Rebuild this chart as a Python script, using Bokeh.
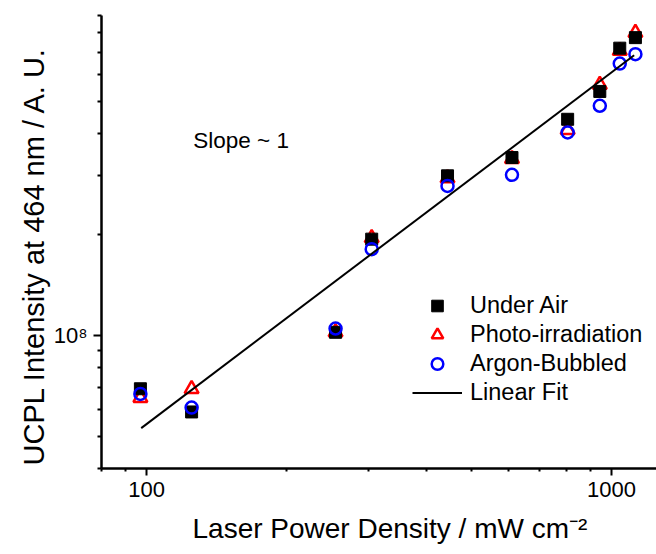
from bokeh.plotting import figure
from bokeh.models import (FixedTicker, Legend, LegendItem, Label, Range1d, Title)
from bokeh.embed import file_html
from bokeh.resources import INLINE

# ---- data ----
power = [97, 125, 255, 305, 444, 611, 805, 944, 1042, 1126]
under_air = [6.92e7, 5.90e7, 1.02e8, 1.935e8, 2.99e8, 3.39e8, 4.41e8, 5.34e8, 7.19e8, 7.73e8]
photo_irr = [6.50e7, 6.91e7, 1.02e8, 1.95e8, 2.94e8, 3.36e8, 4.10e8, 5.59e8, 7.06e8, 7.99e8]
argon = [6.68e7, 6.08e7, 1.047e8, 1.806e8, 2.79e8, 3.01e8, 4.03e8, 4.84e8, 6.47e8, 6.90e8]
fit_x = [97.4, 1119]
fit_y = [5.28e7, 6.85e8]

x_major = [100, 1000]
x_major_labels = ["100", "1000"]
x_minor = [80, 90, 200, 300, 400, 500, 600, 700, 800, 900]
y_major = [1e8]
y_major_labels = ["10\u2078"]
y_minor = [4e7, 5e7, 6e7, 7e7, 8e7, 9e7, 2e8, 3e8, 4e8, 5e8, 6e8, 7e8, 8e8, 9e8]

x_title = "Laser Power Density / mW cm\u207b\u00b2"
y_title = "UCPL Intensity at 464 nm / A. U."

FONT = "Liberation Sans"

p = figure(width=656, height=554, x_axis_type="log", y_axis_type="log",
           x_range=Range1d(80, 1250), y_range=Range1d(4e7, 9e8),
           output_backend="svg", toolbar_location=None,
           min_border_left=101, min_border_right=0,
           min_border_top=15, min_border_bottom=86)
p.outline_line_color = None
p.grid.visible = False
p.background_fill_color = "white"

# axes
p.xaxis.ticker = FixedTicker(ticks=x_major, minor_ticks=x_minor)
p.yaxis.ticker = FixedTicker(ticks=y_major, minor_ticks=y_minor)
p.xaxis.major_label_overrides = dict(zip(x_major, x_major_labels))
p.yaxis.major_label_overrides = dict(zip(y_major, y_major_labels))
for ax in (p.xaxis[0], p.yaxis[0]):
    ax.axis_line_width = 2.5
    ax.axis_line_color = "black"
    ax.major_tick_line_width = 2
    ax.minor_tick_line_width = 2
    ax.major_tick_line_color = "black"
    ax.minor_tick_line_color = "black"
    ax.major_tick_in = 0
    ax.minor_tick_in = 0
    ax.major_label_text_font = FONT
    ax.major_label_text_font_size = "22px"
    ax.major_label_text_color = "black"
p.xaxis.major_tick_out = 7
p.xaxis.minor_tick_out = 3
p.yaxis.major_tick_out = 8
p.yaxis.minor_tick_out = 4
p.xaxis.major_label_standoff = 6
p.yaxis.major_label_standoff = 6

# axis titles as side panels (allow an offset along the axis)
p.add_layout(Title(text=x_title, align="left", offset=91, standoff=22,
                   text_font=FONT, text_font_size="28px",
                   text_font_style="normal", text_color="black"), "below")
p.add_layout(Title(text=y_title, align="left", offset=3, standoff=2,
                   text_font=FONT, text_font_size="29px",
                   text_font_style="normal", text_color="black"), "left")

# data
tri = p.scatter(power, photo_irr, marker="triangle", size=14, fill_color=None,
                line_color="#FF0000", line_width=2.5)
sq = p.scatter(power, under_air, marker="square", size=12, fill_color="black",
               line_color="black", line_width=1)
cir = p.scatter(power, argon, marker="circle", size=12, fill_color=None,
                line_color="#0000FF", line_width=2.5)
fit = p.line(fit_x, fit_y, line_color="black", line_width=2)

legend = Legend(items=[
    LegendItem(label="Under Air", renderers=[sq]),
    LegendItem(label="Photo-irradiation", renderers=[tri]),
    LegendItem(label="Argon-Bubbled", renderers=[cir]),
    LegendItem(label="Linear Fit", renderers=[fit]),
], location=(311, 61), border_line_color=None, background_fill_alpha=0,
    label_text_font=FONT, label_text_font_size="23.5px", label_text_color="black",
    glyph_width=50, glyph_height=29, label_height=29, spacing=0, padding=0,
    margin=0, label_standoff=8)
p.add_layout(legend)

p.add_layout(Label(x=126, y=3.8e8, text="Slope ~ 1", text_baseline="middle",
                   text_font=FONT, text_font_size="22.5px", text_color="black"))

open("out.html", "w").write(file_html(p, INLINE))
